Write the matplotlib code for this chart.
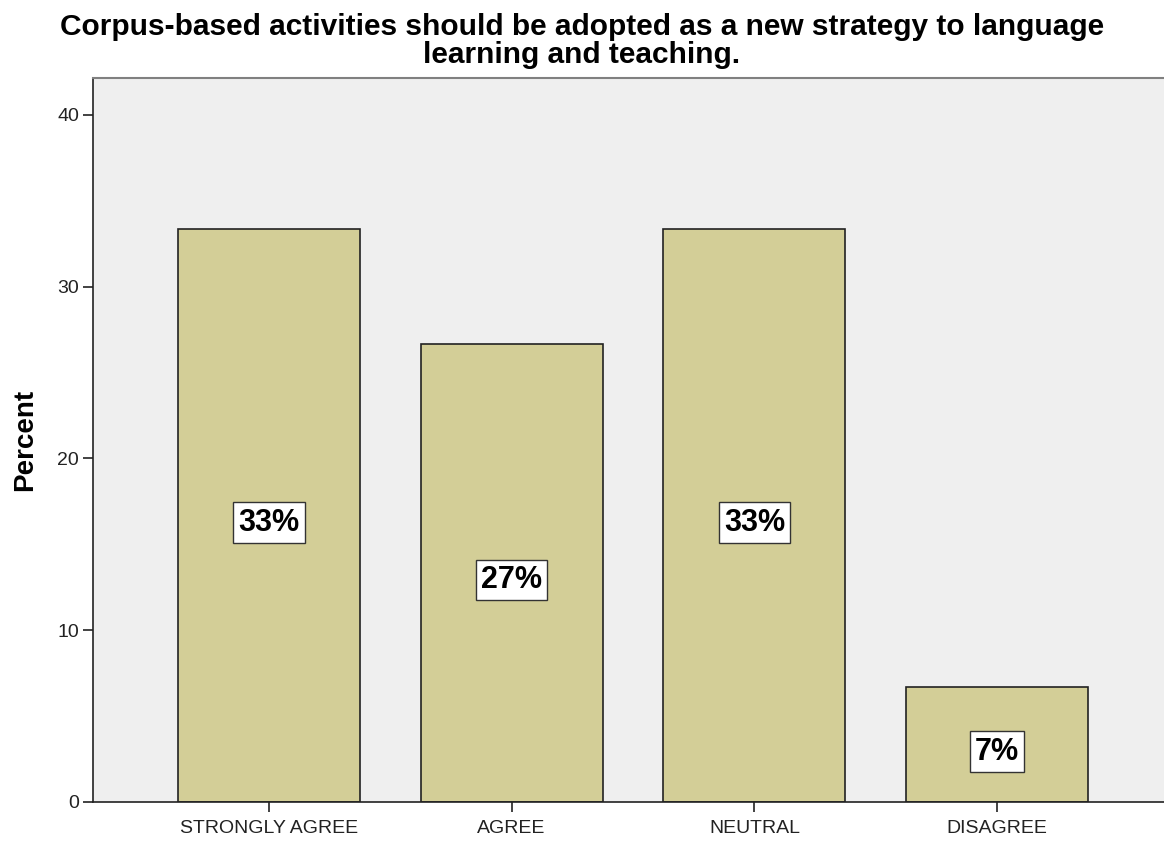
import numpy as np
import matplotlib.pyplot as plt

# survey responses (percent of respondents)
categories = ['STRONGLY AGREE', 'AGREE', 'NEUTRAL', 'DISAGREE']
percents = [33.33, 26.67, 33.33, 6.67]
bar_labels = ['33%', '27%', '33%', '7%']
yticks = [0, 10, 20, 30, 40]

plt.rcParams['font.family'] = ['Liberation Sans', 'DejaVu Sans']

fig = plt.figure(figsize=(11.64, 8.41), dpi=100)
ax = fig.add_axes([93 / 1164, 1 - 802 / 841, 1 - 93 / 1164, (802 - 78) / 841])
ax.set_facecolor('#efefef')

x = np.arange(len(categories))
ax.bar(x, percents, width=0.75, color='#d3ce97', edgecolor='#222222', linewidth=1.2, zorder=2)

# value boxes sit roughly at the middle of each bar
for xi, v, lab in zip(x, percents, bar_labels):
    ax.text(xi, v / 2 - 0.4, lab, ha='center', va='center', fontsize=22, fontweight='bold',
            bbox=dict(boxstyle='square,pad=0.17', facecolor='white', edgecolor='#333333', linewidth=1.0),
            zorder=3)

ax.set_xlim(-0.724, len(categories) - 1 + 0.687)
ax.set_ylim(0, 42.15)
ax.set_yticks(yticks)
ax.set_xticks(x)
ax.set_xticklabels(categories)
ax.tick_params(axis='both', labelsize=14, colors='#222222', length=7, width=1.2)
ax.tick_params(axis='x', pad=6)
ax.tick_params(axis='y', pad=3)

ax.spines['right'].set_visible(False)
ax.spines['top'].set_color('#808080')
ax.spines['top'].set_linewidth(1.5)
for s in ['left', 'bottom']:
    ax.spines[s].set_color('#222222')
    ax.spines[s].set_linewidth(1.2)

ax.set_ylabel('Percent', fontsize=20, fontweight='bold', labelpad=14)

fig.text(0.5, 1 - 41 / 841,
         'Corpus-based activities should be adopted as a new strategy to language\nlearning and teaching.',
         ha='center', va='center', fontsize=21.5, fontweight='bold', linespacing=1.02)

fig.savefig('out.png', dpi=100)
